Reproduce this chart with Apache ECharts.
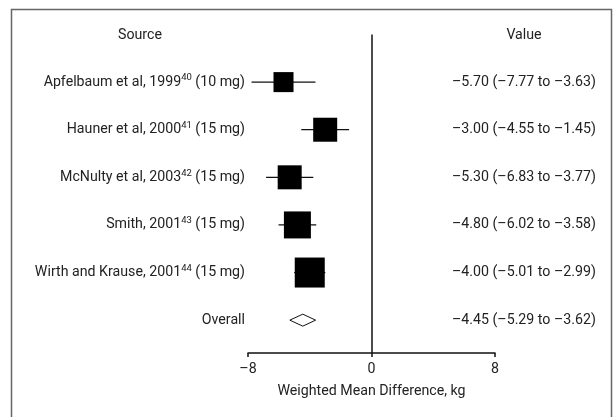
<!DOCTYPE html>
<html>
<head>
<meta charset="utf-8">
<script src="https://cdn.jsdelivr.net/npm/echarts@6/dist/echarts.min.js"></script>
<style>html,body{margin:0;padding:0;background:#fff;}#chart{width:613px;height:417px;}</style>
</head>
<body>
<div id="chart"></div>
<script>
// ---- data ----
var headers = ['Source', 'Value'];
var studies = ['Apfelbaum et al, 1999', 'Hauner et al, 2000', 'McNulty et al, 2003', 'Smith, 2001', 'Wirth and Krause, 2001'];
var refs = ['40', '41', '42', '43', '44'];
var doses = ['10 mg', '15 mg', '15 mg', '15 mg', '15 mg'];
var wmd = [-5.70, -3.00, -5.30, -4.80, -4.00];
var ciLow = [-7.77, -4.55, -6.83, -6.02, -5.01];
var ciHigh = [-3.63, -1.45, -3.77, -3.58, -2.99];
var weights = [12.6, 18.1, 18.1, 22.9, 28.3];
var overallLabel = 'Overall';
var overall = [-4.45, -5.29, -3.62]; // estimate, low, high
var xTicks = [-8, 0, 8];
var xTitle = 'Weighted Mean Difference, kg';

var FONT = 'Roboto';
var FS = 14.2;
var TXT = '#222';
function dash(v) { return String(v).replace(/-/g, '\u2013'); }
function fmt(v) { return dash(v.toFixed(2)); }

var studyData = wmd.map(function (v, i) { return [v, i + 1, ciLow[i], ciHigh[i], weights[i]]; });
var overallData = [[overall[0], studies.length + 1, overall[1], overall[2]]];

var leftLabels = {};
var rightLabels = {};
studies.forEach(function (s, i) {
  leftLabels[i + 1] = '{n|' + s + '}{s|' + refs[i] + '}{n| (' + doses[i] + ')}';
  rightLabels[i + 1] = fmt(wmd[i]) + ' (' + fmt(ciLow[i]) + ' to ' + fmt(ciHigh[i]) + ')';
});
leftLabels[studies.length + 1] = '{n|' + overallLabel + '}';
rightLabels[studies.length + 1] = fmt(overall[0]) + ' (' + fmt(overall[1]) + ' to ' + fmt(overall[2]) + ')';

var chart = echarts.init(document.getElementById('chart'), null, { renderer: 'canvas' });
var yBase = { type: 'value', inverse: true, min: 0, max: 6.69, interval: 1,
  axisLine: { show: false }, axisTick: { show: false }, splitLine: { show: false } };

chart.setOption({
  backgroundColor: '#fff',
  animation: false,
  textStyle: { fontFamily: FONT },
  grid: { left: 248, right: 118, top: 34.5, bottom: 64 },
  xAxis: {
    type: 'value', min: xTicks[0], max: xTicks[xTicks.length - 1], interval: 8, position: 'bottom',
    axisLine: { onZero: false, lineStyle: { color: '#111', width: 1.5 } },
    axisTick: { lineStyle: { color: '#111', width: 1.5 }, length: 4 },
    splitLine: { show: false },
    axisLabel: { color: TXT, fontSize: FS, fontFamily: FONT, margin: 9, formatter: function (v) { return dash(v); } },
    name: xTitle, nameLocation: 'middle', nameGap: 31,
    nameTextStyle: { color: TXT, fontSize: FS, fontFamily: FONT }
  },
  yAxis: [
    Object.assign({}, yBase, { position: 'left',
      axisLabel: { margin: 3, color: TXT, fontFamily: FONT, fontSize: FS,
        formatter: function (v) { return leftLabels[v] || ''; },
        rich: { n: { fontSize: FS, fontFamily: FONT, color: TXT, lineHeight: 18 },
                s: { fontSize: 9.5, fontFamily: FONT, color: TXT, lineHeight: 10, verticalAlign: 'top' } } } }),
    Object.assign({}, yBase, { position: 'right', offset: -43,
      axisLabel: { margin: 0, color: TXT, fontFamily: FONT, fontSize: FS, align: 'left',
        formatter: function (v) { return rightLabels[v] || ''; } } })
  ],
  graphic: [
    { type: 'rect', shape: { x: 11.5, y: 9.5, width: 600, height: 450 }, style: { fill: 'none', stroke: '#666', lineWidth: 1.5 }, silent: true },
    { type: 'text', x: 140, y: 35, style: { text: headers[0], fill: TXT, font: FS + 'px "' + FONT + '"', align: 'center', verticalAlign: 'middle' } },
    { type: 'text', x: 524, y: 35, style: { text: headers[1], fill: TXT, font: FS + 'px "' + FONT + '"', align: 'center', verticalAlign: 'middle' } }
  ],
  series: [
    {
      type: 'custom', name: 'studies', data: studyData,
      encode: { x: [0, 2, 3], y: 1 },
      renderItem: function (params, api) {
        var y = api.value(1);
        var c = api.coord([api.value(0), y]);
        var l = api.coord([api.value(2), y]);
        var r = api.coord([api.value(3), y]);
        var side = 5.64 * Math.sqrt(api.value(4));
        return { type: 'group', children: [
          { type: 'line', shape: { x1: l[0], y1: c[1], x2: r[0], y2: c[1] }, style: { stroke: '#111', lineWidth: 1.2 } },
          { type: 'rect', shape: { x: c[0] - side / 2, y: c[1] - side / 2, width: side, height: side }, style: { fill: '#000' } }
        ] };
      },
      markLine: { silent: true, symbol: 'none', label: { show: false },
        lineStyle: { color: '#111', width: 1.5, type: 'solid' }, data: [{ xAxis: 0 }] }
    },
    {
      type: 'custom', name: 'overall', data: overallData,
      encode: { x: [0, 2, 3], y: 1 },
      renderItem: function (params, api) {
        var y = api.value(1);
        var c = api.coord([api.value(0), y]);
        var l = api.coord([api.value(2), y]);
        var r = api.coord([api.value(3), y]);
        var h = 6;
        return { type: 'polygon', shape: { points: [[l[0], c[1]], [c[0], c[1] - h], [r[0], c[1]], [c[0], c[1] + h]] },
          style: { fill: '#fff', stroke: '#111', lineWidth: 1 } };
      }
    }
  ]
});
</script>
</body>
</html>
